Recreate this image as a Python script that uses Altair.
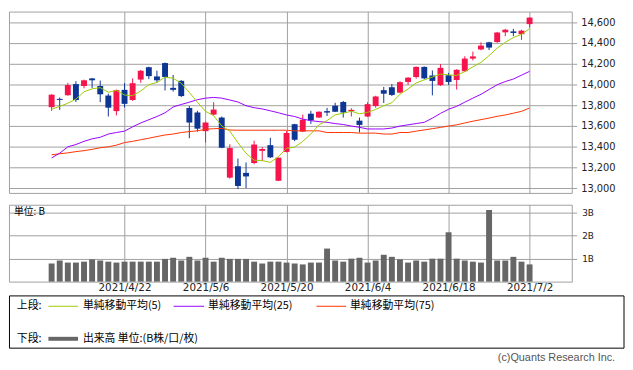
import altair as alt
import pandas as pd

# ---------------- data ----------------
dates = [
    "2021/4/9", "2021/4/12", "2021/4/13", "2021/4/14", "2021/4/15", "2021/4/16",
    "2021/4/19", "2021/4/20", "2021/4/21", "2021/4/22", "2021/4/23", "2021/4/26",
    "2021/4/27", "2021/4/28", "2021/4/29", "2021/4/30", "2021/5/3", "2021/5/4",
    "2021/5/5", "2021/5/6", "2021/5/7", "2021/5/10", "2021/5/11", "2021/5/12",
    "2021/5/13", "2021/5/14", "2021/5/17", "2021/5/18", "2021/5/19", "2021/5/20",
    "2021/5/21", "2021/5/24", "2021/5/25", "2021/5/26", "2021/5/27", "2021/5/28",
    "2021/6/1", "2021/6/2", "2021/6/3", "2021/6/4", "2021/6/7", "2021/6/8",
    "2021/6/9", "2021/6/10", "2021/6/11", "2021/6/14", "2021/6/15", "2021/6/16",
    "2021/6/17", "2021/6/18", "2021/6/21", "2021/6/22", "2021/6/23", "2021/6/24",
    "2021/6/25", "2021/6/28", "2021/6/29", "2021/6/30", "2021/7/1", "2021/7/2",
]
opens = [13780, 13860, 13895, 14002, 13984, 14057, 13984, 13892, 13742, 13947,
         13849, 14046, 14165, 14076, 14205, 13966, 14034, 13772, 13729, 13549,
         13708, 13680, 13101, 13211, 13147, 13242, 13359, 13414, 13071, 13349,
         13616, 13545, 13717, 13680, 13742, 13794, 13830, 13742, 13650, 13690,
         13791, 13944, 13972, 13920, 14023, 14070, 14168, 14085, 13992, 14088,
         14042, 14126, 14248, 14336, 14405, 14407, 14501, 14510, 14483, 14580]
highs = [13905, 13873, 14014, 14030, 14045, 14062, 14036, 13910, 13950, 14011,
         14057, 14138, 14170, 14131, 14210, 14090, 14040, 13791, 13745, 13640,
         13828, 13690, 13423, 13285, 13248, 13457, 13396, 13485, 13294, 13550,
         13620, 13708, 13745, 13740, 13773, 13822, 13840, 13770, 13680, 13828,
         13890, 13975, 14003, 14030, 14070, 14172, 14172, 14134, 14195, 14110,
         14145, 14270, 14315, 14405, 14410, 14505, 14535, 14535, 14526, 14645]
lows = [13745, 13754, 13890, 13830, 13962, 13965, 13828, 13690, 13701, 13777,
        13840, 14015, 14050, 14015, 13941, 13930, 13878, 13481, 13545, 13439,
        13700, 13385, 13092, 12991, 13000, 13230, 13260, 13290, 13068, 13345,
        13453, 13540, 13619, 13675, 13695, 13733, 13680, 13690, 13536, 13685,
        13775, 13820, 13888, 13915, 13995, 14055, 14050, 13894, 13985, 13995,
        13950, 14120, 14230, 14328, 14330, 14400, 14464, 14464, 14428, 14548]
closes = [13900, 13850, 13993, 13849, 14039, 14039, 13904, 13775, 13944, 13812,
          14011, 14131, 14079, 14039, 14071, 13947, 13887, 13632, 13573, 13632,
          13757, 13389, 13386, 13021, 13113, 13420, 13377, 13297, 13294, 13531,
          13466, 13659, 13653, 13736, 13728, 13736, 13729, 13754, 13609, 13809,
          13883, 13910, 13898, 14021, 14064, 14168, 14057, 14033, 14159, 14023,
          14140, 14248, 14269, 14373, 14354, 14499, 14526, 14495, 14517, 14643]
ma5 = [13760, 13788, 13818, 13858, 13928, 13957, 13968, 13924, 13941, 13897,
       13891, 13936, 13997, 14018, 14069, 14059, 14011, 13922, 13828, 13740,
       13698, 13599, 13549, 13438, 13336, 13269, 13266, 13248, 13302, 13384,
       13394, 13451, 13522, 13610, 13651, 13706, 13721, 13741, 13716, 13730,
       13758, 13794, 13823, 13905, 13956, 14013, 14043, 14070, 14098, 14091,
       14085, 14122, 14169, 14211, 14277, 14349, 14404, 14451, 14481, 14537]
ma25 = [13291, 13337, 13398, 13420, 13451, 13475, 13490, 13521, 13536, 13549,
        13591, 13628, 13659, 13690, 13726, 13782, 13806, 13828, 13852, 13867,
        13874, 13867, 13849, 13830, 13794, 13775, 13763, 13745, 13726, 13705,
        13690, 13665, 13650, 13641, 13634, 13622, 13613, 13598, 13586, 13570,
        13570, 13570, 13579, 13598, 13610, 13622, 13634, 13674, 13720, 13760,
        13788, 13828, 13867, 13904, 13950, 13996, 14027, 14051, 14088, 14125]
ma75 = [13322, 13331, 13340, 13352, 13361, 13374, 13389, 13398, 13414, 13439,
        13451, 13466, 13481, 13497, 13512, 13521, 13536, 13545, 13552, 13567,
        13573, 13575, 13560, 13558, 13558, 13558, 13558, 13558, 13558, 13558,
        13552, 13552, 13552, 13552, 13536, 13536, 13536, 13536, 13530, 13530,
        13530, 13521, 13521, 13536, 13536, 13549, 13561, 13573, 13585, 13598,
        13610, 13628, 13645, 13660, 13675, 13692, 13705, 13722, 13740, 13772]
volume_b = [0.79, 0.92, 0.83, 0.83, 0.87, 0.97, 0.92, 0.87, 0.83, 0.87,
            0.87, 0.87, 0.87, 0.87, 0.99, 1.04, 0.92, 1.08, 0.92, 1.04,
            0.87, 1.04, 0.99, 0.99, 0.99, 0.87, 0.79, 0.87, 0.87, 0.83,
            0.79, 0.75, 0.83, 0.83, 1.44, 0.92, 0.87, 1.00, 1.04, 0.83,
            0.92, 1.17, 1.08, 0.97, 0.83, 0.92, 0.87, 1.00, 1.00, 2.15,
            1.00, 0.92, 0.87, 0.83, 3.12, 0.92, 0.92, 1.08, 0.87, 0.75]

tick_idx = [10, 20, 30, 40, 50, 60]
price_ticks = [13000, 13200, 13400, 13600, 13800, 14000, 14200, 14400, 14600]
vol_ticks = [1, 2, 3]

legend_labels = ["単純移動平均(5)", "単純移動平均(25)", "単純移動平均(75)"]
volume_label = "出来高 単位:(B株/口/枚)"
upper_label = "上段:"
lower_label = "下段:"
unit_label = "単位: B"
credit = "(c)Quants Research Inc."

# ---------------- styling ----------------
RED = "#f7134b"
BLUE = "#0c3594"
GRID = "#a0a0a0"
C5, C25, C75 = "#99cc00", "#9900ff", "#ff3300"
VOLC = "#666666"
CJK = "Noto Sans CJK JP"
LAT = "DejaVu Sans"

idx = list(range(1, len(dates) + 1))
df = pd.DataFrame({"i": idx, "date": dates, "open": opens, "high": highs,
                   "low": lows, "close": closes, "vol": volume_b})
df["dir"] = ["up" if c >= o else "down" for o, c in zip(opens, closes)]
df["body_lo"] = df[["open", "close"]].min(axis=1)
df["body_hi"] = df[["open", "close"]].max(axis=1)

ma_frames = {
    "5": pd.DataFrame({"i": idx, "v": ma5}),
    "25": pd.DataFrame({"i": idx, "v": ma25}),
    "75": pd.DataFrame({"i": idx, "v": ma75}),
}

xscale = alt.Scale(domain=[-3.654, 64.6], nice=False, zero=False)
yscale = alt.Scale(domain=[12954, 14701], nice=False, zero=False)

x_top_axis = alt.Axis(values=tick_idx, grid=True, labels=False, ticks=False,
                      domain=False, title=None)
y_top_axis = alt.Axis(orient="right", values=price_ticks, format=",.0f", grid=True,
                      tickSize=5, domain=False, title=None, labelPadding=4,
                      labelFontSize=10)

color = alt.Color("dir:N", scale=alt.Scale(domain=["up", "down"], range=[RED, BLUE]),
                  legend=None)

base = alt.Chart(df)
wicks = base.mark_rule(strokeWidth=1).encode(
    x=alt.X("i:Q", scale=xscale, axis=x_top_axis),
    y=alt.Y("low:Q", scale=yscale, axis=y_top_axis),
    y2="high:Q",
    color=color,
)
bodies = base.mark_bar(size=6).encode(
    x=alt.X("i:Q", scale=xscale, axis=x_top_axis),
    y=alt.Y("body_lo:Q", scale=yscale, axis=y_top_axis),
    y2="body_hi:Q",
    color=color,
)
ma_layers = []
for key, col in [("75", C75), ("25", C25), ("5", C5)]:
    ma_layers.append(
        alt.Chart(ma_frames[key]).mark_line(strokeWidth=1, color=col).encode(
            x=alt.X("i:Q", scale=xscale, axis=x_top_axis),
            y=alt.Y("v:Q", scale=yscale, axis=y_top_axis),
        )
    )

top = alt.layer(wicks, bodies, *ma_layers).properties(width=571, height=184)

# ---------------- volume panel ----------------
label_expr = "".join(f"datum.value == {i} ? '{dates[i - 1]}' : " for i in tick_idx) + "''"

vol_bars = alt.Chart(df).mark_bar(size=6, color=VOLC).encode(
    x=alt.X("i:Q", scale=xscale,
            axis=alt.Axis(values=tick_idx, labelExpr=label_expr, grid=True,
                          ticks=False, domain=False, title=None, labelFontSize=10.5,
                          labelPadding=1)),
    y=alt.Y("vol:Q", scale=alt.Scale(domain=[0, 3.35], nice=False),
            axis=alt.Axis(orient="right", values=vol_ticks,
                          labelExpr="datum.value + 'B'", grid=True, tickSize=5,
                          domain=False, title=None, labelFontSize=9, labelPadding=5)),
)

one = pd.DataFrame({"k": [0]})


def text(t, x, y, size=11, align="left", font=CJK, col="#000000"):
    return alt.Chart(one).mark_text(text=t, align=align, baseline="middle",
                                    font=font, fontSize=size, color=col).encode(
        x=alt.value(x), y=alt.value(y))


def hline(x1, x2, y, col, w=1):
    return alt.Chart(one).mark_rule(color=col, strokeWidth=w).encode(
        x=alt.value(x1), x2=alt.value(x2), y=alt.value(y))


box = alt.Chart(one).mark_rect(fill="#ffffff", fillOpacity=0, stroke="#000000",
                               strokeWidth=1).encode(
    x=alt.value(0.5), x2=alt.value(624), y=alt.value(92.5), y2=alt.value(145.5))

R1, R2 = 103, 136
extras = [
    text(unit_label, 5, 7, size=10),
    box,
    text(upper_label, 8, R1),
    hline(40, 70, R1, C5),
    text(legend_labels[0], 75, R1),
    hline(167, 198, R1, C25),
    text(legend_labels[1], 202, R1),
    hline(312, 342, R1, C75),
    text(legend_labels[2], 346, R1),
    text(lower_label, 8, R2),
    hline(40, 70, R2, VOLC, 4),
    text(volume_label, 75, R2),
    text(credit, 615, 156, size=11, align="right", font="Liberation Sans", col="#555555"),
]

vol = alt.layer(vol_bars, *extras).properties(width=571, height=78)

chart = (
    alt.vconcat(top, vol, spacing=10)
    .properties(padding=0, background="#ffffff")
    .configure_view(stroke=GRID, strokeWidth=1)
    .configure_axis(gridColor=GRID, gridWidth=1, tickColor=GRID, labelColor="#222222",
                    labelFont=LAT)
)

chart.save("out.html", embed_options={"renderer": "svg", "actions": False})
